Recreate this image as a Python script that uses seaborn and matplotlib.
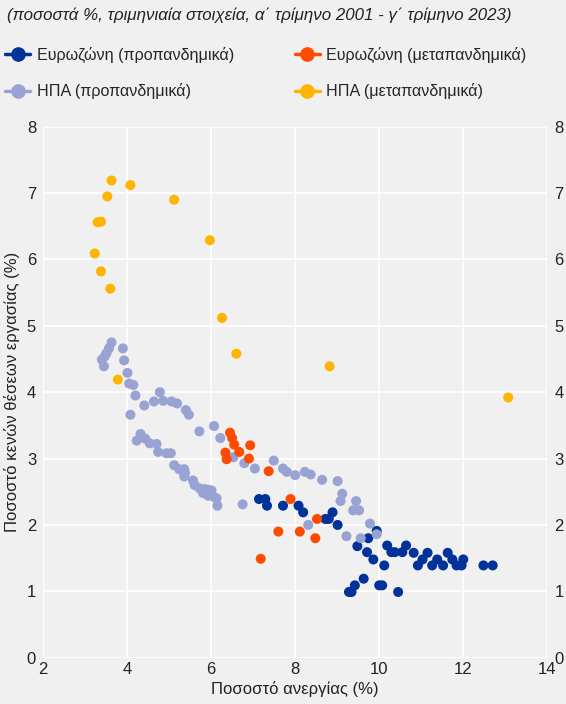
import pandas as pd
import seaborn as sns
import matplotlib.pyplot as plt
from matplotlib.lines import Line2D

# Data: unemployment (x) vs job vacancy rate (y)
ez_pre_x = [7.14, 7.29, 7.33, 7.71, 8.08, 8.19, 8.72, 8.80, 8.89, 9.01, 9.94, 9.74, 9.48, 9.71,
            9.86, 10.12, 10.19, 10.29, 10.37, 10.55, 10.64, 10.82, 10.92, 11.03, 11.15, 11.26,
            11.38, 11.52, 11.63, 11.74, 11.84, 11.96, 12.00, 12.48, 12.70, 9.28, 9.34, 9.42,
            9.63, 10.00, 10.07, 10.45]
ez_pre_y = [2.39, 2.39, 2.29, 2.29, 2.29, 2.19, 2.09, 2.09, 2.19, 2.00, 1.91, 1.80, 1.68, 1.59,
            1.48, 1.39, 1.69, 1.59, 1.59, 1.59, 1.69, 1.58, 1.39, 1.48, 1.58, 1.39,
            1.48, 1.39, 1.58, 1.48, 1.39, 1.39, 1.48, 1.39, 1.39, 0.99, 0.99, 1.09,
            1.19, 1.09, 1.09, 0.99]

us_pre_x = [3.63, 3.57, 3.51, 3.47, 3.40, 3.45, 3.90, 3.93, 4.01, 4.05, 4.15, 4.20, 4.08, 4.41,
            4.64, 4.78, 4.86, 5.06, 5.19, 5.40, 5.47, 5.72, 6.07, 6.22, 6.53, 6.79, 7.04, 7.49,
            7.71, 7.80, 8.00, 8.23, 8.37, 8.64, 9.01, 9.12, 9.08, 9.45, 9.38, 9.52, 9.78, 8.31,
            9.22, 9.56, 9.94, 6.75,
            4.32, 4.23, 4.43, 4.54, 4.70, 4.74, 4.94, 5.04, 5.12, 5.24, 5.36, 5.38, 5.36, 5.57,
            5.61, 5.73, 5.85, 5.93, 6.01, 5.81, 5.93, 6.07, 6.13, 6.15]
us_pre_y = [4.75, 4.66, 4.59, 4.54, 4.49, 4.39, 4.66, 4.48, 4.29, 4.13, 4.11, 3.95, 3.66, 3.80,
            3.86, 4.00, 3.87, 3.86, 3.83, 3.73, 3.66, 3.41, 3.49, 3.31, 3.02, 2.93, 2.85, 2.97,
            2.85, 2.80, 2.75, 2.80, 2.76, 2.68, 2.66, 2.47, 2.36, 2.36, 2.22, 2.22, 2.02, 2.00,
            1.83, 1.80, 1.86, 2.31,
            3.37, 3.27, 3.30, 3.23, 3.22, 3.10, 3.08, 3.08, 2.90, 2.84, 2.84, 2.78, 2.73, 2.67,
            2.60, 2.55, 2.54, 2.53, 2.52, 2.48, 2.44, 2.42, 2.40, 2.29]

ez_post_x = [6.45, 6.50, 6.55, 6.67, 6.93, 6.34, 6.37, 6.90, 7.37, 7.89, 7.60, 8.11, 7.18, 8.52, 8.48]
ez_post_y = [3.39, 3.31, 3.21, 3.10, 3.20, 3.09, 2.99, 3.00, 2.81, 2.39, 1.90, 1.90, 1.49, 2.09, 1.80]

us_post_x = [3.63, 4.08, 3.53, 5.12, 3.30, 3.38, 5.97, 3.23, 3.38, 3.60, 6.26, 6.60, 3.78, 8.82, 13.07]
us_post_y = [7.19, 7.12, 6.95, 6.90, 6.56, 6.57, 6.29, 6.09, 5.82, 5.56, 5.12, 4.58, 4.19, 4.39, 3.92]

series = ['Ευρωζώνη (προπανδημικά)', 'ΗΠΑ (προπανδημικά)',
          'Ευρωζώνη (μεταπανδημικά)', 'ΗΠΑ (μεταπανδημικά)']
colors = ['#003299', '#99a3d3', '#ff4b00', '#ffb400']

df = pd.concat([
    pd.DataFrame({'x': ez_pre_x, 'y': ez_pre_y, 'series': series[0]}),
    pd.DataFrame({'x': us_pre_x, 'y': us_pre_y, 'series': series[1]}),
    pd.DataFrame({'x': ez_post_x, 'y': ez_post_y, 'series': series[2]}),
    pd.DataFrame({'x': us_post_x, 'y': us_post_y, 'series': series[3]}),
])

sns.set_theme(style='whitegrid')
plt.rcParams['font.family'] = ['Liberation Sans', 'DejaVu Sans']
bg = '#f0f0f0'
txt = '#222222'

fig = plt.figure(figsize=(5.66, 7.04), dpi=100, facecolor=bg)
ax = fig.add_axes([0.076, 0.0658, 0.891, 0.7542])
ax.set_facecolor(bg)

sns.scatterplot(data=df, x='x', y='y', hue='series', hue_order=series,
                palette=dict(zip(series, colors)), s=52, linewidth=0, alpha=1,
                legend=False, ax=ax)

ax.set_xlim(2, 14)
ax.set_ylim(0, 8)
ax.set_xticks(range(2, 15, 2))
ax.set_yticks(range(0, 9))
ax.grid(True, color='white', linewidth=1.2)
for sp in ax.spines.values():
    sp.set_visible(False)
ax.tick_params(axis='both', length=0, labelsize=12, colors=txt)
ax.tick_params(axis='x', pad=3)
ax.tick_params(axis='y', labelright=True, right=False, pad=5)
ax.set_xlabel('Ποσοστό ανεργίας (%)', fontsize=12, color=txt, labelpad=3)
ax.set_ylabel('Ποσοστό κενών θέσεων εργασίας (%)', fontsize=12, color=txt, labelpad=5)

fig.text(0.012, 0.978, '(ποσοστά %, τριμηνιαία στοιχεία, α΄ τρίμηνο 2001 - γ΄ τρίμηνο 2023)',
         fontsize=12.2, style='italic', color=txt, va='center', ha='left')

handles = [Line2D([0], [0], color=c, marker='o', markersize=9.5, linewidth=2.5) for c in colors]
fig.legend(handles, series, ncol=2,
           loc='upper left', bbox_to_anchor=(0.009, 0.934), frameon=False,
           fontsize=11.65, handlelength=1.55, handletextpad=0.4, columnspacing=3.75,
           labelspacing=1.28, borderaxespad=0, borderpad=0)

fig.savefig('out.png', dpi=100, facecolor=bg)
